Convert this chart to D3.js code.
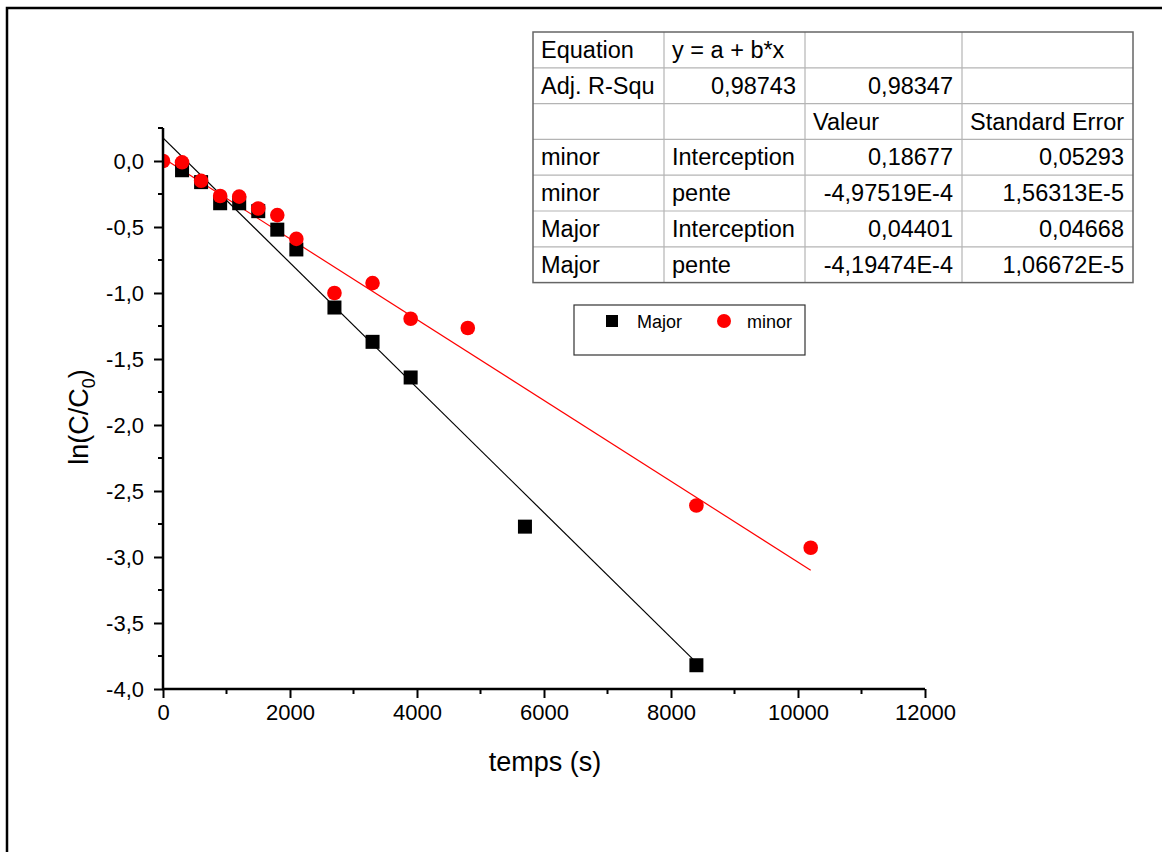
<!DOCTYPE html>
<html>
<head>
<meta charset="utf-8">
<script src="https://cdn.jsdelivr.net/npm/d3@7"></script>
<style>
  body { margin: 0; background: #fff; }
  svg { display: block; font-family: "Liberation Sans", Arial, sans-serif; }
</style>
</head>
<body>
<div id="chart"></div>
<script>
// data
const majorTime = [300, 600, 900, 1200, 1500, 1800, 2100, 2700, 3300, 3900, 5700, 8400];
const majorLn = [-0.07, -0.16, -0.32, -0.32, -0.38, -0.52, -0.67, -1.11, -1.37, -1.64, -2.77, -3.82];

const minorTime = [0, 300, 600, 900, 1200, 1500, 1800, 2100, 2700, 3300, 3900, 4800, 8400, 10200];
const minorLn = [0, -0.01, -0.15, -0.265, -0.27, -0.36, -0.41, -0.59, -1.0, -0.925, -1.195, -1.265, -2.61, -2.93];

// fitted lines as drawn (endpoints)
const majorFit = [[0, 0.175], [8400, -3.80]];
const minorFit = [[0, 0.023], [10200, -3.10]];

const xTicks = [0, 2000, 4000, 6000, 8000, 10000, 12000];
const yTicks = [0, -0.5, -1, -1.5, -2, -2.5, -3, -3.5, -4];

const tableRows = [
  ["Equation", "y = a + b*x", "", ""],
  ["Adj. R-Squ", "0,98743", "0,98347", ""],
  ["", "", "Valeur", "Standard Error"],
  ["minor", "Interception", "0,18677", "0,05293"],
  ["minor", "pente", "-4,97519E-4", "1,56313E-5"],
  ["Major", "Interception", "0,04401", "0,04668"],
  ["Major", "pente", "-4,19474E-4", "1,06672E-5"]
];

const W = 1162, H = 852;
const svg = d3.select("#chart").append("svg")
  .attr("width", W).attr("height", H);

// outer frame (top + left only visible)
svg.append("path")
  .attr("d", `M7,${H} L7,8 L${W},8`)
  .attr("fill", "none").attr("stroke", "#000").attr("stroke-width", 2.5);

const x = d3.scaleLinear().domain([0, 12000]).range([163, 925]);
const y = d3.scaleLinear().domain([-4, 0.25]).range([689, 128]);

const fmt = d => d3.format(".1f")(d).replace(".", ",").replace("−", "-");

// clip for plot area
svg.append("clipPath").attr("id", "plot")
  .append("rect").attr("x", 163).attr("y", 120).attr("width", 780).attr("height", 580);

const g = svg.append("g").attr("clip-path", "url(#plot)");

const line = d3.line().x(d => x(d[0])).y(d => y(d[1]));
g.append("path").attr("d", line(majorFit)).attr("stroke", "#000").attr("stroke-width", 1.2).attr("fill", "none");
g.append("path").attr("d", line(minorFit)).attr("stroke", "#f00").attr("stroke-width", 1.2).attr("fill", "none");

g.selectAll("rect.major")
  .data(majorTime.map((t, i) => [t, majorLn[i]]))
  .join("rect")
  .attr("class", "major")
  .attr("x", d => x(d[0]) - 7).attr("y", d => y(d[1]) - 7)
  .attr("width", 14).attr("height", 14)
  .attr("fill", "#000");

g.selectAll("circle.minor")
  .data(minorTime.map((t, i) => [t, minorLn[i]]))
  .join("circle")
  .attr("class", "minor")
  .attr("cx", d => x(d[0])).attr("cy", d => y(d[1]))
  .attr("r", 7.3)
  .attr("fill", "#f00");

// axes
const xAxis = d3.axisBottom(x).tickValues(xTicks).tickSize(9).tickSizeOuter(0).tickPadding(6).tickFormat(d3.format("d"));
const xg = svg.append("g").attr("transform", `translate(0,${y(-4)})`).call(xAxis);

const xMinor = d3.range(1000, 12000, 2000);
xg.selectAll(".minor-tick").data(xMinor).join("line")
  .attr("x1", d => x(d)).attr("x2", d => x(d)).attr("y1", 0).attr("y2", 5)
  .attr("stroke", "#000").attr("stroke-width", 2);

const yAxis = d3.axisLeft(y).tickValues(yTicks).tickSize(9).tickSizeOuter(0).tickPadding(10).tickFormat(fmt);
const yg = svg.append("g").attr("transform", `translate(${x(0)},0)`).call(yAxis);

const yMinor = [0.25, -0.25, -0.75, -1.25, -1.75, -2.25, -2.75, -3.25, -3.75];
yg.selectAll(".minor-tick").data(yMinor).join("line")
  .attr("x1", 0).attr("x2", -5).attr("y1", d => y(d)).attr("y2", d => y(d))
  .attr("stroke", "#000").attr("stroke-width", 2);

[xg, yg].forEach(a => {
  a.select(".domain").attr("stroke-width", 2.5);
  a.selectAll(".tick line").attr("stroke-width", 2);
  a.selectAll(".tick text").attr("font-size", 22).attr("font-family", "Liberation Sans, Arial, sans-serif").attr("fill", "#000");
});
// extend y domain line to the top minor tick
yg.select(".domain").attr("d", `M0,${y(0.25)}V${y(-4) + 1}`);
xg.select(".domain").attr("d", `M-1,0H${x(12000) - x(0)}`).attr("transform", `translate(${x(0)},0)`);

// axis titles
svg.append("text").attr("x", 545).attr("y", 771).attr("text-anchor", "middle")
  .attr("font-size", 27).text("temps (s)");

const yt = svg.append("text").attr("transform", "translate(88,417) rotate(-90)")
  .attr("text-anchor", "middle").attr("font-size", 27);
yt.append("tspan").text("ln(C/C");
yt.append("tspan").attr("font-size", 18).attr("dy", 7).text("0");
yt.append("tspan").attr("dy", -7).text(")");

// legend
const lg = svg.append("g");
lg.append("rect").attr("x", 574).attr("y", 305).attr("width", 231).attr("height", 50)
  .attr("fill", "#fff").attr("stroke", "#333").attr("stroke-width", 1.2);
lg.append("rect").attr("x", 606).attr("y", 315).attr("width", 12).attr("height", 12).attr("fill", "#000");
lg.append("text").attr("x", 637).attr("y", 328).attr("font-size", 18).text("Major");
lg.append("circle").attr("cx", 724).attr("cy", 321).attr("r", 7).attr("fill", "#f00");
lg.append("text").attr("x", 747).attr("y", 328).attr("font-size", 18).text("minor");

// fit results table
const colX = [533, 664, 805, 962, 1133];
const rowY0 = 32, rowH = 35.8;
const align = [
  ["l", "l", "l", "l"],
  ["l", "r", "r", "r"],
  ["l", "l", "l", "l"],
  ["l", "l", "r", "r"],
  ["l", "l", "r", "r"],
  ["l", "l", "r", "r"],
  ["l", "l", "r", "r"]
];
const tb = svg.append("g");
tb.append("rect").attr("x", colX[0]).attr("y", rowY0).attr("width", colX[4] - colX[0])
  .attr("height", rowH * tableRows.length).attr("fill", "#fff");
for (let i = 1; i < tableRows.length; i++) {
  tb.append("line").attr("x1", colX[0]).attr("x2", colX[4])
    .attr("y1", rowY0 + i * rowH).attr("y2", rowY0 + i * rowH)
    .attr("stroke", "#b4b4b4").attr("stroke-width", 1.2);
}
for (let j = 1; j < 4; j++) {
  tb.append("line").attr("x1", colX[j]).attr("x2", colX[j])
    .attr("y1", rowY0).attr("y2", rowY0 + rowH * tableRows.length)
    .attr("stroke", "#b4b4b4").attr("stroke-width", 1.2);
}
tb.append("rect").attr("x", colX[0]).attr("y", rowY0).attr("width", colX[4] - colX[0])
  .attr("height", rowH * tableRows.length).attr("fill", "none")
  .attr("stroke", "#666").attr("stroke-width", 1.5);

tableRows.forEach((row, i) => {
  row.forEach((cell, j) => {
    if (!cell) return;
    const right = align[i][j] === "r";
    tb.append("text")
      .attr("x", right ? colX[j + 1] - 9 : colX[j] + 8)
      .attr("y", rowY0 + i * rowH + rowH / 2 + 8)
      .attr("text-anchor", right ? "end" : "start")
      .attr("font-size", 23.5)
      .text(cell);
  });
});
</script>
</body>
</html>
